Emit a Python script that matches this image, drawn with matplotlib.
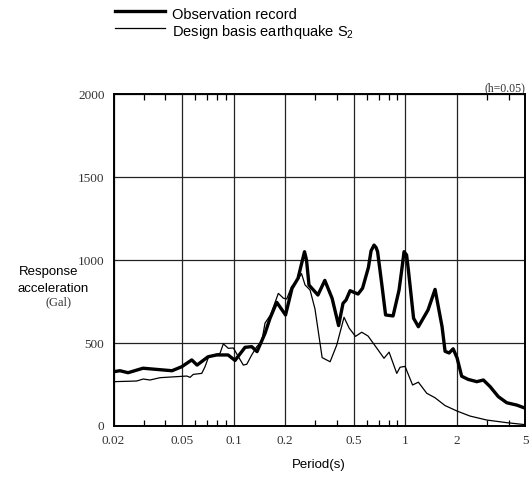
import matplotlib
matplotlib.use("Agg")
import matplotlib.pyplot as plt
from matplotlib.lines import Line2D
from matplotlib.ticker import FixedLocator, NullFormatter

plt.rcParams["font.family"] = ["Liberation Sans", "DejaVu Sans"]
plt.rcParams["mathtext.fontset"] = "custom"
plt.rcParams["mathtext.rm"] = "Liberation Sans"
plt.rcParams["mathtext.it"] = "Liberation Sans"

# observed response spectrum (period s, acceleration Gal)
obs_period = [0.020, 0.0218, 0.0243, 0.0297, 0.0438, 0.0499, 0.0571, 0.0613,
              0.0710, 0.0798, 0.0929, 0.102, 0.1167, 0.1276, 0.1370, 0.1525,
              0.1631, 0.1785, 0.2008, 0.219, 0.2374, 0.2506, 0.259, 0.266,
              0.275, 0.310, 0.340, 0.375, 0.409, 0.434, 0.452, 0.477, 0.531,
              0.564, 0.610, 0.632, 0.658, 0.676, 0.690, 0.733, 0.768, 0.849,
              0.920, 0.951, 0.984, 1.018, 1.045, 1.081, 1.118, 1.192, 1.357,
              1.491, 1.638, 1.705, 1.80, 1.90, 2.003, 2.13, 2.32, 2.61, 2.85,
              3.12, 3.48, 3.90, 4.46, 5.0]
obs_accel = [327, 333, 321, 348, 333, 357, 398, 367,
             417, 428, 428, 395, 474, 478, 448, 558,
             649, 745, 669, 829, 890, 990, 1050, 1000,
             849, 789, 877, 769, 605, 739, 759, 815, 795,
             830, 955, 1055, 1090, 1075, 1050, 839, 669, 663,
             819, 930, 1050, 1030, 930, 789, 649, 598, 699,
             823, 598, 450, 440, 465, 410, 300, 281, 267, 277,
             237, 177, 140, 126, 107]

# design basis earthquake S2 spectrum
s2_period = [0.0200, 0.0273, 0.0298, 0.0326, 0.0373, 0.0534, 0.0558, 0.0583,
             0.0653, 0.0682, 0.0713, 0.0763, 0.0834, 0.0872, 0.0932, 0.0997,
             0.1066, 0.1140, 0.1194, 0.1276, 0.1365, 0.1460, 0.1525, 0.1642,
             0.1823, 0.1950, 0.2040, 0.2176, 0.2384, 0.2488, 0.2608, 0.279,
             0.298, 0.328, 0.365, 0.399, 0.440, 0.471, 0.513, 0.558, 0.607,
             0.676, 0.752, 0.805, 0.892, 0.933, 0.997, 1.103, 1.192, 1.334,
             1.491, 1.705, 2.003, 2.38, 2.98, 3.90, 5.0]
s2_accel = [267, 271, 283, 277, 291, 301, 293, 311,
            317, 357, 412, 428, 438, 495, 468, 470,
            418, 367, 372, 428, 478, 510, 620, 669,
            799, 770, 765, 839, 885, 918, 850, 819,
            705, 412, 387, 488, 655, 590, 540, 565, 542,
            475, 408, 445, 317, 354, 359, 247, 264, 197,
            170, 123, 90, 60, 36, 20, 8]

major_x = [0.02, 0.05, 0.1, 0.2, 0.5, 1, 2, 5]
major_x_labels = ["0.02", "0.05", "0.1", "0.2", "0.5", "1", "2", "5"]
minor_x = [0.03, 0.04, 0.06, 0.07, 0.08, 0.09, 0.3, 0.4, 0.6, 0.7, 0.8, 0.9, 3, 4]
y_ticks = [0, 500, 1000, 1500, 2000]

fig = plt.figure(figsize=(5.29, 4.78), dpi=100)
ax = fig.add_axes([0.2146, 0.1088, 0.7784, 0.6945])

ax.plot(obs_period, obs_accel, color="black", lw=2.4,
        solid_joinstyle="round", solid_capstyle="round")
ax.plot(s2_period, s2_accel, color="black", lw=0.9)

ax.set_xscale("log")
ax.set_xlim(0.02, 5)
ax.set_ylim(0, 2000)

ax.xaxis.set_major_locator(FixedLocator(major_x))
ax.set_xticklabels(major_x_labels)
ax.xaxis.set_minor_locator(FixedLocator(minor_x))
ax.xaxis.set_minor_formatter(NullFormatter())
ax.set_yticks(y_ticks)
ax.tick_params(axis="both", which="major", length=0, pad=6.5,
               labelsize=9.5, labelcolor="#333333")
ax.tick_params(axis="x", which="minor", direction="in", length=4.5,
               width=0.9, top=True, bottom=True)
for lab in ax.get_xticklabels() + ax.get_yticklabels():
    lab.set_family("Liberation Serif")

ax.grid(True, which="major", color="#222222", lw=0.9)
for s in ax.spines.values():
    s.set_linewidth(1.4)

# axis titles
fig.text(19 / 529, 1 - 272 / 478, "Response", fontsize=9.5, va="center", ha="left")
fig.text(18 / 529, 1 - 288.5 / 478, "acceleration", fontsize=9.5, va="center", ha="left")
fig.text(59 / 529, 1 - 302 / 478, "(Gal)", fontsize=9, va="center", ha="center",
         family="Liberation Serif", color="#333333")
fig.text(319 / 529, 1 - 465 / 478, "Period(s)", fontsize=9.5, ha="center", va="center")
fig.text(525 / 529, 1 - 88 / 478, "(h=0.05)", fontsize=8.5, ha="right", va="center",
         family="Liberation Serif", color="#333333")

# legend drawn at the top of the figure
fig.add_artist(Line2D([114.7 / 529, 165.3 / 529], [1 - 11 / 478, 1 - 11 / 478],
                      color="black", lw=2.4))
fig.add_artist(Line2D([114.7 / 529, 165.3 / 529], [1 - 27.7 / 478, 1 - 27.7 / 478],
                      color="black", lw=0.9))
fig.text(172.5 / 529, 1 - 15 / 478, "Observation record", fontsize=10.5, va="center")
fig.text(172.5 / 529, 1 - 32 / 478, r"Design basis earthquake S$_2$", fontsize=10.5,
         va="center")

fig.savefig("out.png", dpi=100)
